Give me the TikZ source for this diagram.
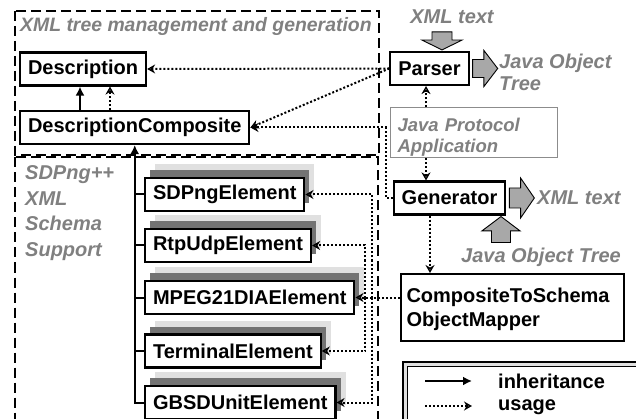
\documentclass[tikz,border=0pt]{standalone}
\usepackage{fontspec}
\setmainfont{Liberation Sans}
\usetikzlibrary{arrows.meta,shadows,calc}

\newcommand\boxfont{\bfseries\fontsize{20}{24}\selectfont}
\newcommand\notefont{\bfseries\itshape\fontsize{20}{25.5}\selectfont}

\tikzset{
  box/.style={draw, line width=2.1pt, fill=white, font=\boxfont, inner xsep=8pt, inner ysep=0pt, minimum height=33pt},
  elem/.style={box, anchor=west,
    copy shadow={shadow xshift=10pt, shadow yshift=14pt, draw=none, fill=black!12},
    copy shadow={shadow xshift=5pt, shadow yshift=8pt, draw=none, fill=black!55}},
  note/.style={font=\notefont, text=black!50, align=left, inner sep=0pt},
  usage/.style={line width=2pt, dash pattern=on 2pt off 2pt,
    -{Stealth[open, length=8pt, width=9pt, line width=1.6pt]}},
  inherit/.style={line width=2pt, -{Latex[length=9pt, width=9pt]}},
  zone/.style={line width=2pt, dash pattern=on 10pt off 5pt},
  pics/blockarrow/.style 2 args={code={
    \filldraw[fill=black!34, draw=black, line width=0.9pt]
      (0,-#2/2) -- ({0.45*#1},-#2/2) -- ({0.45*#1},-#2) -- (#1,0)
      -- ({0.45*#1},#2) -- ({0.45*#1},#2/2) -- (0,#2/2) -- cycle;}}
}

\begin{document}
\begin{tikzpicture}[x=1pt, y=-1pt]
\useasboundingbox (0,0) rectangle (636,419);
\clip (0,0) rectangle (636,419);

% the two package areas
\draw[zone] (15,11) rectangle (379,155);
\draw[zone] (15,157.5) rectangle (378,460);
\node[note, anchor=base west, font=\bfseries\itshape\fontsize{19.4}{23}\selectfont] (mgmt) at (20,32) {XML tree management and generation};
\node[note, anchor=north west] (schema) at (25,165.5) {SDPng++\\XML\\Schema\\Support};

% tree classes
\node[box, anchor=west] (desc) at (19,69) {Description};
\node[box, anchor=west] (desccomp) at (19,127.5) {DescriptionComposite};

% schema elements
\node[elem] (sdp) at (144,194.5) {SDPngElement};
\node[elem] (rtp) at (144,245.5) {RtpUdpElement};
\node[elem] (mpeg) at (144,297.5) {MPEG21DIAElement};
\node[elem] (term) at (144,351) {TerminalElement};
\node[elem] (gbsd) at (144,402.5) {GBSDUnitElement};

% parser / generator side
\node[box] (parser) at (429.5,68.5) {Parser};
\node[note, draw=black!45, line width=1pt, anchor=north west, text width=152pt,
      inner xsep=7.5pt, inner ysep=0pt, text height=24pt, text depth=26pt,
      font=\bfseries\itshape\fontsize{18.5}{21}\selectfont] (app) at (389.5,107.5) {Java Protocol\\Application};
\node[box] (gen) at (449.5,198) {Generator};
\node[box, anchor=north west, text width=212pt, inner xsep=5.5pt, align=left,
      inner ysep=0pt, text height=28pt, text depth=39pt] (cts) at (400,273) {CompositeToSchema\\ObjectMapper};

% data in and out
\node[note, anchor=base] (xmlin) at (452,24) {XML text};
\pic[rotate=-90] at ($(parser.north)+(12.5,-19)$) {blockarrow={18}{20}};
\pic at ($(parser.east)+(3,0)$) {blockarrow={25}{18}};
\node[note, anchor=north west, font=\bfseries\itshape\fontsize{20}{22}\selectfont] (treeout) at (499,54) {Java Object\\Tree};
\pic at ($(gen.east)+(3,0)$) {blockarrow={25}{20}};
\node[note, anchor=base west] (xmlout) at (537,205) {XML text};
\pic[rotate=90] at ($(gen.south)+(51.5,27)$) {blockarrow={26}{19}};
\node[note, anchor=base] (treein) at (541,262) {Java Object Tree};

% inheritance
\coordinate (inhx) at (80,0);
\coordinate (usex) at (110,0);
\draw[inherit] (desccomp.north -| inhx) -- (desc.south -| inhx);
\draw[usage] (desccomp.north -| usex) -- (desc.south -| usex);
\draw[inherit] (gbsd.west) -| (desccomp.south);
\foreach \e in {sdp,rtp,mpeg,term}
  \draw[line width=2pt] (\e.west) -- (\e.west -| desccomp.south);

% usage
\coordinate (lane) at (426,0);
\coordinate (ctslane) at (430,0);
\draw[usage] (parser.west) -- (desc.east);
\draw[usage] (parser.west) -- (desccomp.east);
\draw[usage] (gen.west) -- ++(-7,0) |- (desccomp.east);
\draw[usage] (app.north -| lane) -- (parser.south -| lane);
\draw[usage] (app.south -| lane) -- (gen.north -| lane);
\draw[usage] (gen.south -| ctslane) -- (cts.north -| ctslane);

\coordinate (busa) at (372,297.5);
\coordinate (busb) at (365,297.5);
\draw[usage] (cts.west |- mpeg.east) -- (mpeg.east);
\draw[usage] (busa) |- (sdp.east);
\draw[usage] (busa) |- (gbsd.east);
\draw[usage] (busb) |- (rtp.east);
\draw[usage] (busb) |- (term.east);

% legend
\draw[line width=1.2pt, double=black!12, double distance=3pt] (405,364) rectangle (700,500);
\coordinate (inhA) at (425,381);
\coordinate (inhB) at (472,381);
\draw[inherit] (inhA) -- (inhB);
\node[font=\boxfont, anchor=west, inner sep=0pt] (inhtext) at (498,381) {inheritance};
\coordinate (useA) at (425,406);
\coordinate (useB) at (472,406);
\draw[usage] (useA) -- (useB);
\node[font=\boxfont, anchor=west, inner sep=0pt] (usetext) at (498,407) {usage};
\end{tikzpicture}
\end{document}
